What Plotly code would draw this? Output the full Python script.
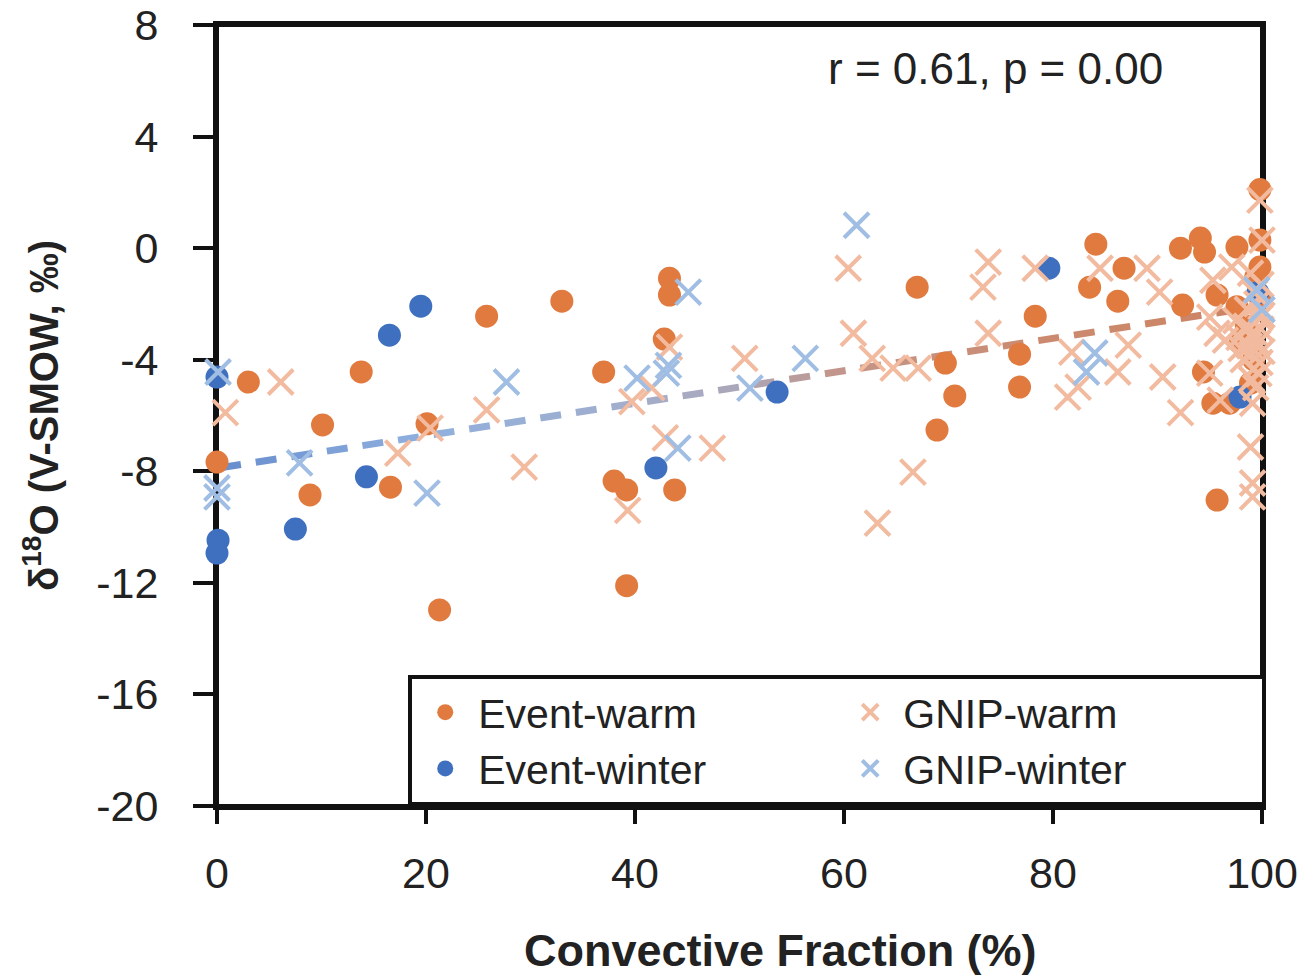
import plotly.graph_objects as go

# ---------------- data ----------------
event_warm_x = [0.0, 3.0, 10.1, 8.9, 13.8, 16.6, 20.1, 21.3, 25.8, 33.0, 37.0, 38.0, 39.2, 39.2,
                43.3, 43.3, 42.8, 43.8, 67.0, 69.7, 68.9, 70.6, 76.8, 76.8, 78.3, 84.1, 83.5,
                86.8, 86.2, 99.8, 92.2, 94.1, 94.5, 97.6, 99.8, 99.8, 92.4, 95.7, 97.6, 99.4,
                99.8, 94.4, 95.3, 96.9, 98.9, 95.7, 97.9, 98.5, 99.2]
event_warm_y = [-7.67, -4.8, -6.34, -8.85, -4.44, -8.57, -6.3, -12.97, -2.44, -1.9, -4.44, -8.35,
                -8.67, -12.1, -1.08, -1.68, -3.26, -8.67, -1.4, -4.12, -6.52, -5.3, -3.8, -4.98,
                -2.44, 0.14, -1.4, -0.72, -1.9, 2.1, 0.0, 0.36, -0.14, 0.04, 0.29, -0.68, -2.04,
                -1.68, -2.1, -1.04, -1.75, -4.44, -5.56, -5.56, -4.84, -9.03, -3.4, -2.8, -4.0]

event_winter_x = [0.0, 0.1, 0.0, 16.5, 19.5, 14.3, 7.5, 42.0, 53.6, 79.6, 97.9, 99.6]
event_winter_y = [-4.62, -10.47, -10.93, -3.12, -2.08, -8.2, -10.07, -7.88, -5.16, -0.72, -5.34, -1.6]

gnip_warm_x = [0.8, 6.1, 17.3, 20.4, 25.8, 29.4, 39.3, 39.7, 41.6, 43.3, 42.9, 47.4, 50.5, 60.4,
               60.9, 62.7, 64.7, 67.1, 66.6, 63.2, 73.8, 73.3, 73.8, 78.3, 81.4, 82.4, 81.8, 84.5,
               87.2, 86.2, 89.0, 90.2, 90.5, 92.2, 95.3, 97.1, 98.9, 100.0, 99.8, 95.0, 95.7,
               95.0, 96.0, 99.1, 98.9, 99.1, 99.1, 99.5, 99.8, 99.2, 99.6, 99.0, 99.8, 98.5,
               98.8, 99.9, 98.2, 97.8, 99.3, 100.0, 99.7, 98.6, 97.5, 99.9, 99.4, 98.0, 96.5,
               99.0, 100.0]
gnip_warm_y = [-5.9, -4.8, -7.35, -6.45, -5.8, -7.85, -9.4, -5.5, -5.0, -3.55, -6.8, -7.17, -3.95,
               -0.72, -3.05, -3.95, -4.3, -4.3, -8.03, -9.86, -0.5, -1.4, -3.05, -0.72, -5.34,
               -4.98, -3.73, -0.72, -3.48, -4.44, -0.72, -1.58, -4.62, -5.9, -1.15, -0.68, -0.9,
               0.29, 1.72, -2.47, -3.05, -4.48, -5.45, -5.56, -7.13, -8.42, -8.92, -2.0, -2.5,
               -3.0, -3.4, -3.8, -4.1, -2.8, -3.5, -2.9, -4.0, -3.2, -1.6, -3.7, -4.5, -2.2,
               -2.6, -1.3, -5.0, -3.6, -3.3, -4.7, -2.4]

gnip_winter_x = [0.1, 0.0, 0.0, 7.9, 20.1, 27.7, 45.1, 40.2, 43.2, 43.0, 44.1, 51.0, 61.2, 56.3,
                 84.0, 83.2, 99.5, 100.0]
gnip_winter_y = [-4.44, -8.6, -8.92, -7.7, -8.78, -4.8, -1.58, -4.66, -4.2, -4.48, -7.17, -5.02,
                 0.82, -3.95, -3.76, -4.44, -1.5, -2.2]

trend_x = [0.0, 100.0]
trend_y = [-7.89, -2.07]

x_ticks = [0, 20, 40, 60, 80, 100]
x_tick_labels = ["0", "20", "40", "60", "80", "100"]
y_ticks = [8, 4, 0, -4, -8, -12, -16, -20]
y_tick_labels = ["8", "4", "0", "-4", "-8", "-12", "-16", "-20"]

stats_text = "r = 0.61, p = 0.00"

# ---------------- style ----------------
FONT = "Liberation Sans, Arial, sans-serif"
TXT = "#222222"
AX = "#111111"
C_EW = "#E07A3E"
C_EWI = "#3F70BF"
C_GW = "#F2BBA0"
C_GWI = "#A0BEE3"

W, H = 1312, 977
M = dict(l=217, r=50, t=25, b=171)
XR = [0, 100]
YR = [-20, 8]
px_per_x = (W - M["l"] - M["r"]) / (XR[1] - XR[0])
px_per_y = (H - M["t"] - M["b"]) / (YR[1] - YR[0])

fig = go.Figure()

# ---- gradient dashed trend line: one short segment per dash ----
grad_stops = [(0, (0x66, 0x8D, 0xCD)), (20, (0x90, 0xB0, 0xDE)), (40, (0xA2, 0xAE, 0xCC)),
              (50, (0xAB, 0xA6, 0xB8)), (60, (0xC4, 0x95, 0x88)), (80, (0xCB, 0x8A, 0x6E)),
              (100, (0xCD, 0x83, 0x64))]


def grad_color(xv):
    for (x0, c0), (x1, c1) in zip(grad_stops[:-1], grad_stops[1:]):
        if x0 <= xv <= x1:
            t = (xv - x0) / (x1 - x0)
            c = [round(a + (b - a) * t) for a, b in zip(c0, c1)]
            return "rgb(%d,%d,%d)" % tuple(c)
    return "rgb(%d,%d,%d)" % grad_stops[-1][1]


slope = (trend_y[1] - trend_y[0]) / (trend_x[1] - trend_x[0])
px_len_per_x = ((px_per_x) ** 2 + (slope * px_per_y) ** 2) ** 0.5
dash_px, gap_px = 21.0, 15.0
dash_dx = dash_px / px_len_per_x
period_dx = (dash_px + gap_px) / px_len_per_x
xs = trend_x[0] + 0.3
while xs < trend_x[1]:
    xe = min(xs + dash_dx, trend_x[1])
    xm = (xs + xe) / 2
    fig.add_trace(go.Scatter(
        x=[xs, xe],
        y=[trend_y[0] + slope * (xs - trend_x[0]), trend_y[0] + slope * (xe - trend_x[0])],
        mode="lines", line=dict(color=grad_color(xm), width=7),
        showlegend=False, hoverinfo="skip", cliponaxis=False))
    xs += period_dx

# ---- data series: drawn in Excel series order, legend order set with legendrank ----
fig.add_trace(go.Scatter(x=event_warm_x, y=event_warm_y, mode="markers", name="Event-warm",
                         marker=dict(symbol="circle", size=23, color=C_EW, line=dict(width=0)),
                         legendrank=1, cliponaxis=False))
fig.add_trace(go.Scatter(x=event_winter_x, y=event_winter_y, mode="markers", name="Event-winter",
                         marker=dict(symbol="circle", size=23, color=C_EWI, line=dict(width=0)),
                         legendrank=3, cliponaxis=False))
fig.add_trace(go.Scatter(x=gnip_warm_x, y=gnip_warm_y, mode="markers", name="GNIP-warm",
                         marker=dict(symbol="x-thin", size=25, color=C_GW,
                                     line=dict(width=4, color=C_GW)),
                         legendrank=2, cliponaxis=False))
fig.add_trace(go.Scatter(x=gnip_winter_x, y=gnip_winter_y, mode="markers", name="GNIP-winter",
                         marker=dict(symbol="x-thin", size=25, color=C_GWI,
                                     line=dict(width=4, color=C_GWI)),
                         legendrank=4, cliponaxis=False))

axis_common = dict(showline=True, linecolor=AX, linewidth=4, mirror=True,
                   showgrid=False, zeroline=False, ticks="outside", tickcolor=AX,
                   tickwidth=4, layer="below traces",
                   tickfont=dict(family=FONT, size=43, color=TXT))

fig.update_layout(
    width=W, height=H, margin=dict(M, autoexpand=False),
    paper_bgcolor="white", plot_bgcolor="white",
    font=dict(family=FONT, color=TXT),
    xaxis=dict(range=XR, tickvals=x_ticks, ticktext=x_tick_labels, ticklen=14,
               ticklabelstandoff=12, **axis_common),
    yaxis=dict(range=YR, tickvals=y_ticks, ticktext=y_tick_labels, ticklen=20,
               ticklabelstandoff=26,
               title=dict(text="<b>δ<sup>18</sup>O (V-SMOW, ‰)</b>", standoff=26,
                          font=dict(family=FONT, size=40, color=TXT)),
               **axis_common),
    legend=dict(orientation="h", x=0.183, xanchor="left", y=0, yanchor="bottom",
                bgcolor="white", bordercolor=AX, borderwidth=4,
                font=dict(family=FONT, size=41, color=TXT),
                entrywidth=354, itemwidth=56, itemsizing="trace"),
    shapes=[dict(type="rect", xref="paper", yref="paper", x0=0, x1=1, y0=0, y1=1,
                 line=dict(color=AX, width=4), fillcolor="rgba(0,0,0,0)", layer="below")],
    annotations=[
        dict(text=stats_text, x=0.745, y=0.944, xref="paper", yref="paper",
             xanchor="center", yanchor="middle", showarrow=False,
             font=dict(family=FONT, size=44, color=TXT)),
        dict(text="<b>Convective Fraction (%)</b>", x=(780 - M["l"]) / (W - M["l"] - M["r"]),
             y=-0.185, xref="paper", yref="paper", xanchor="center", yanchor="middle",
             showarrow=False, font=dict(family=FONT, size=45, color=TXT)),
    ],
)

fig.write_html("out.html")
